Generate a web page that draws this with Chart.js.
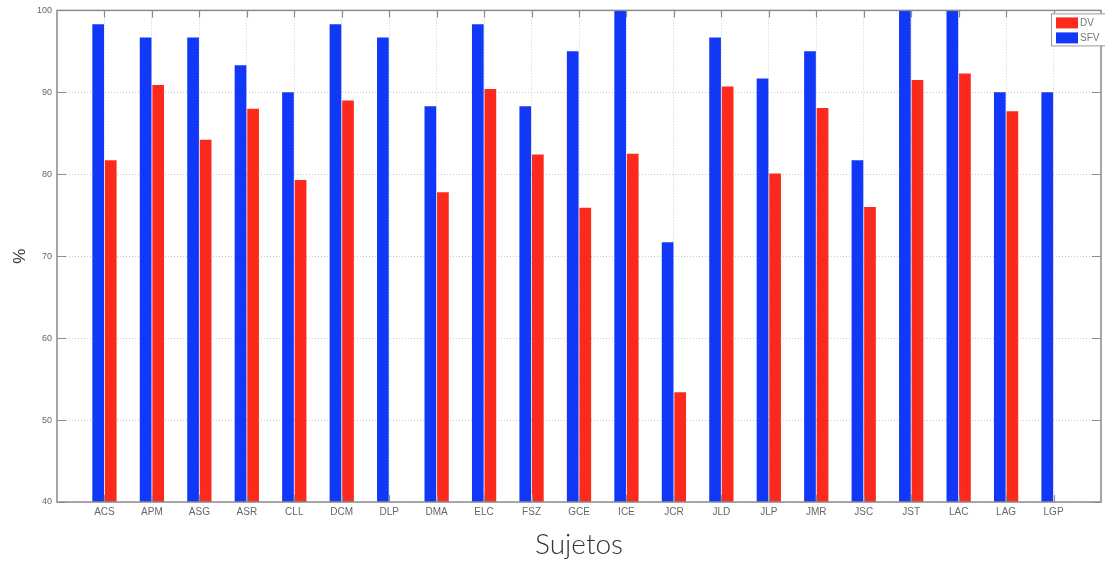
<!DOCTYPE html>
<html>
<head>
<meta charset="utf-8">
<script src="https://cdn.jsdelivr.net/npm/chart.js@4.4.1/dist/chart.umd.min.js"></script>
<style>
    html, body { margin: 0; padding: 0; background: #fff; }
    #wrap { position: relative; width: 1105px; height: 562px; }
</style>
</head>
<body>
<div id="wrap"><canvas id="chart" width="1105" height="562"></canvas></div>
<script>
// Data
const subjects = ['ACS', 'APM', 'ASG', 'ASR', 'CLL', 'DCM', 'DLP', 'DMA', 'ELC', 'FSZ', 'GCE',
                  'ICE', 'JCR', 'JLD', 'JLP', 'JMR', 'JSC', 'JST', 'LAC', 'LAG', 'LGP'];
const sfv = [98.3, 96.7, 96.7, 93.3, 90.0, 98.3, 96.7, 88.3, 98.3, 88.3, 95.0,
             100, 71.7, 96.7, 91.7, 95.0, 81.7, 100, 100, 90.0, 90.0];
const dv = [81.7, 90.9, 84.2, 88.0, 79.3, 89.0, null, 77.8, 90.4, 82.4, 75.9,
            82.5, 53.4, 90.7, 80.1, 88.1, 76.0, 91.5, 92.3, 87.7, null];
const yTicks = [40, 50, 60, 70, 80, 90, 100];

// Colors
const BLUE = '#1238f7';
const RED = '#fb2a1c';
const AXIS = '#8c8c8c';

// one empty slot on each side, like the original x limits
const labels = ['', ...subjects, ''];
const pad = arr => [null, ...arr, null];

// Box, inward ticks and legend drawn on top of the chart area
const framePlugin = {
    id: 'frame',
    afterDraw(chart) {
        const ctx = chart.ctx;
        const a = chart.chartArea;
        const x = chart.scales.x;
        const y = chart.scales.y;
        ctx.save();
        ctx.strokeStyle = AXIS;
        ctx.lineWidth = 1.5;
        ctx.strokeRect(a.left, a.top, a.right - a.left, a.bottom - a.top);

        ctx.lineWidth = 1.2;
        ctx.beginPath();
        for (let i = 1; i <= subjects.length; i++) {
            const px = Math.round(x.getPixelForValue(i)) + 0.5;
            ctx.moveTo(px, a.top); ctx.lineTo(px, a.top + 7);
            ctx.moveTo(px, a.bottom); ctx.lineTo(px, a.bottom - 7);
        }
        yTicks.forEach(v => {
            const py = Math.round(y.getPixelForValue(v)) + 0.5;
            ctx.moveTo(a.left, py); ctx.lineTo(a.left + 9, py);
            ctx.moveTo(a.right, py); ctx.lineTo(a.right - 9, py);
        });
        ctx.stroke();

        // legend box (DV first, as in the original)
        const items = [chart.data.datasets[1], chart.data.datasets[0]];
        const bx = a.right - 50, by = a.top + 3;
        ctx.fillStyle = '#fff';
        ctx.fillRect(bx, by, 60, 32);
        ctx.strokeStyle = '#999';
        ctx.lineWidth = 1;
        ctx.strokeRect(bx + 0.5, by + 0.5, 60, 32);
        ctx.font = '10px "Liberation Sans", Arial, sans-serif';
        ctx.textBaseline = 'middle';
        items.forEach((ds, i) => {
            const cy = by + 9 + i * 15;
            ctx.fillStyle = ds.backgroundColor;
            ctx.fillRect(bx + 5, cy - 5, 22, 11);
            ctx.fillStyle = '#777';
            ctx.fillText(ds.label, bx + 29, cy + 1);
        });
        ctx.restore();
    }
};

const chart = new Chart(document.getElementById('chart'), {
    type: 'bar',
    data: {
        labels: labels,
        datasets: [
            {
                label: 'SFV',
                data: pad(sfv),
                backgroundColor: BLUE,
                categoryPercentage: 0.53,
                barPercentage: 0.93
            },
            {
                label: 'DV',
                data: pad(dv),
                backgroundColor: RED,
                categoryPercentage: 0.53,
                barPercentage: 0.93
            }
        ]
    },
    options: {
        responsive: false,
        animation: false,
        layout: { padding: { top: 8, right: 1, left: 0, bottom: 0 } },
        plugins: {
            legend: { display: false },
            tooltip: { enabled: false }
        },
        scales: {
            x: {
                offset: false,
                grid: {
                    offset: false,
                    color: '#d0d0d0',
                    drawTicks: false,
                    lineWidth: 1
                },
                border: { display: false, dash: [1, 2] },
                ticks: {
                    autoSkip: false,
                    maxRotation: 0,
                    padding: 4,
                    color: '#666',
                    font: { family: '"Liberation Sans", Arial, sans-serif', size: 10 }
                },
                title: {
                    display: true,
                    text: 'Sujetos',
                    color: '#333',
                    padding: { top: 6, bottom: 0 },
                    font: { family: 'Lato, "Open Sans", sans-serif', size: 28, weight: 300 }
                },
                afterFit(scale) { scale.height = 60; }
            },
            y: {
                min: 40,
                max: 100,
                grid: { color: '#c8c8c8', drawTicks: false },
                border: { display: false, dash: [1, 2] },
                ticks: {
                    stepSize: 10,
                    padding: 5,
                    color: '#666',
                    font: { family: '"Liberation Sans", Arial, sans-serif', size: 9 }
                },
                title: {
                    display: true,
                    text: '%',
                    color: '#333',
                    padding: { top: 10, bottom: 0 },
                    font: { family: '"Liberation Sans", Arial, sans-serif', size: 17 }
                },
                afterFit(scale) { scale.width = 57; }
            }
        }
    },
    plugins: [framePlugin]
});
</script>
</body>
</html>
